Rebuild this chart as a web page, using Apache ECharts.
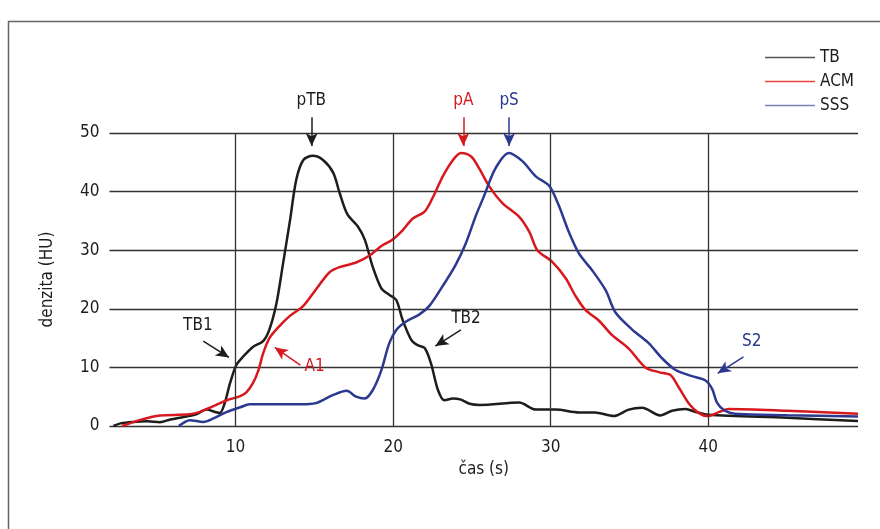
<!DOCTYPE html>
<html>
<head>
<meta charset="utf-8">
<script src="https://cdn.jsdelivr.net/npm/echarts@6/dist/echarts.min.js"></script>
<style>
  html, body { margin: 0; padding: 0; background: #fff; }
  #chart { width: 880px; height: 529px; }
</style>
</head>
<body>
<div id="chart"></div>
<script>
// křivky denzity [čas (s), HU]
const tbData = [
  [2.25, 0], [2.7, 0.45], [3.5, 0.7], [4.4, 0.8], [5.2, 0.65], [5.85, 1.1], [6.7, 1.55],
  [7.5, 2.0], [8.15, 2.8], [8.7, 2.4], [9.0, 2.2], [9.3, 3.8], [9.65, 7.3], [10.05, 10.4],
  [10.5, 11.9], [11.1, 13.5], [11.75, 14.5], [12.15, 16.5], [12.6, 21], [13.0, 27.5],
  [13.45, 35], [13.85, 42], [14.3, 45.4], [14.9, 46.1], [15.55, 45.4], [16.2, 43.2],
  [16.6, 39.8], [17.1, 36.1], [17.75, 34.1], [18.2, 31.8], [18.7, 27.2], [19.25, 23.5],
  [19.75, 22.4], [20.2, 21.5], [20.6, 18.1], [21.15, 14.7], [21.55, 13.8], [22.0, 13.3],
  [22.4, 10.7], [22.85, 6.1], [23.25, 4.4], [23.8, 4.7], [24.3, 4.5], [24.85, 3.8],
  [25.5, 3.6], [28.0, 4.0], [29.05, 2.8], [30.3, 2.8], [31.8, 2.3], [32.8, 2.3],
  [34.0, 1.7], [34.95, 2.8], [35.8, 3.1], [36.95, 1.8], [37.7, 2.6], [38.55, 2.9],
  [39.2, 2.4], [40, 1.9], [45, 1.4], [49.5, 0.85]
]
const acmData = [
  [2.8, 0], [3.9, 1.0], [4.6, 1.5], [5.2, 1.8], [7.1, 2.0], [7.75, 2.4], [8.6, 3.4],
  [9.45, 4.4], [10.3, 5.1], [10.7, 5.8], [11.1, 7.3], [11.45, 9.5], [11.75, 12.4],
  [12.15, 15.0], [12.8, 17.1], [13.45, 18.8], [14.3, 20.5], [15.1, 23.3], [15.95, 26.2],
  [16.6, 27.1], [17.65, 27.9], [18.5, 29.1], [19.3, 30.8], [19.95, 31.8], [20.6, 33.4],
  [21.25, 35.4], [22.0, 36.6], [22.5, 38.9], [23.15, 42.6], [23.8, 45.4], [24.3, 46.6],
  [24.95, 46.0], [25.45, 44.0], [26.1, 40.9], [26.95, 38.0], [28.0, 35.7], [28.65, 33.1],
  [29.15, 30.0], [30.1, 28.0], [30.95, 25.2], [31.55, 22.3], [32.2, 19.8], [33.05, 18.0],
  [33.9, 15.5], [34.95, 13.2], [36.0, 10.0], [36.85, 9.2], [37.6, 8.7], [38.1, 6.7],
  [38.75, 3.9], [39.4, 2.2], [39.95, 1.7], [40.7, 2.4], [41.3, 2.9], [45, 2.6], [49.5, 2.1]
]
const sssData = [
  [6.4, 0], [7.1, 1.0], [7.95, 0.7], [8.6, 1.3], [9.45, 2.4], [10.3, 3.2], [10.9, 3.7],
  [14.1, 3.7], [15.1, 3.9], [16.2, 5.3], [17.05, 6.0], [17.65, 5.0], [18.2, 4.7],
  [18.7, 6.1], [19.25, 9.5], [19.75, 14.1], [20.2, 16.4], [20.8, 17.8], [21.65, 19.0],
  [22.3, 20.5], [23.15, 23.9], [23.95, 27.4], [24.6, 31.1], [25.25, 35.9], [25.7, 38.8],
  [26.5, 44.0], [27.35, 46.6], [28.2, 45.2], [29.05, 42.6], [29.9, 41.0], [30.5, 37.7],
  [31.15, 33.1], [31.8, 29.4], [32.65, 26.5], [33.5, 23.1], [34.1, 19.4], [35.15, 16.5],
  [36.2, 14.2], [37.05, 11.6], [37.9, 9.6], [38.95, 8.5], [39.8, 7.8], [40.25, 6.3],
  [40.55, 4.0], [41.05, 2.6], [41.7, 2.1], [45, 1.85], [49.5, 1.6]
]
const seriesNames = ['TB', 'ACM', 'SSS']
const xTicks = [10, 20, 30, 40]
const yTicks = [0, 10, 20, 30, 40, 50]

// popisky se šipkami: text, pozice textu, šipka od -> do
const notes = [
  { text: 'pTB', color: '#1d1d1b', at: [14.8, 55.6], from: [14.83, 52.7], to: [14.83, 47.8] },
  { text: 'pA', color: '#d7191f', at: [24.45, 55.6], from: [24.45, 52.7], to: [24.45, 47.8] },
  { text: 'pS', color: '#2b3990', at: [27.36, 55.6], from: [27.36, 52.7], to: [27.36, 47.8] },
  { text: 'TB1', color: '#1d1d1b', at: [7.61, 17.1], from: [7.95, 14.5], to: [9.58, 11.7] },
  { text: 'A1', color: '#d7191f', at: [15.02, 10.2], from: [14.11, 10.4], to: [12.49, 13.4] },
  { text: 'TB2', color: '#1d1d1b', at: [24.62, 18.4], from: [24.3, 16.4], to: [22.68, 13.65] },
  { text: 'S2', color: '#2b3990', at: [42.76, 14.4], from: [42.23, 11.8], to: [40.6, 9.0] }
]

const font = "'Liberation Sans Narrow', 'DejaVu Sans Condensed', sans-serif"
const colors = ['#1d1d1b', '#d7191f', '#2b3990']
const legendColors = ['#555555', '#e8453c', '#7c83b8']

const gridLeft = 109.5, gridRight = 22, gridTop = 133, gridBottom = 103
const plotH = 529 - gridTop - gridBottom
// druhý (neviditelný) grid přes celé plátno se stejným měřítkem, pro popisky nad grafem
const yMaxFull = 50 * (529 - gridBottom) / plotH

const chart = echarts.init(document.getElementById('chart'))

const lineSeries = [tbData, acmData, sssData].map((d, i) => ({
  name: seriesNames[i],
  type: 'line',
  data: d,
  smooth: 0.3,
  showSymbol: false,
  symbol: 'none',
  clip: false,
  z: 3 + i,
  lineStyle: { color: colors[i], width: 2.5 },
  itemStyle: { color: colors[i] }
}))

// svislé čáry mřížky
const vGrid = {
  type: 'line',
  data: [],
  silent: true,
  markLine: {
    silent: true,
    animation: false,
    symbol: ['none', 'none'],
    label: { show: false },
    lineStyle: { color: '#333', width: 1.3, type: 'solid' },
    data: xTicks.map(v => ({ xAxis: v }))
  }
}

// šipky a texty
const noteSeries = {
  type: 'line',
  data: [],
  silent: true,
  xAxisIndex: 1,
  yAxisIndex: 1,
  z: 10,
  markLine: {
    silent: true,
    animation: false,
    symbol: ['none', 'arrow'],
    symbolSize: [9, 13],
    label: { show: false },
    data: notes.map(n => [
      { coord: n.from, lineStyle: { color: n.color, width: 1.5, type: 'solid' }, itemStyle: { color: n.color } },
      { coord: n.to }
    ])
  },
  markPoint: {
    silent: true,
    animation: false,
    symbol: 'circle',
    symbolSize: 0,
    data: notes.map(n => ({
      coord: n.at,
      label: {
        show: true,
        formatter: n.text,
        color: n.color,
        fontFamily: font,
        fontSize: 17,
        position: 'inside'
      }
    }))
  }
}

chart.setOption({
  animation: false,
  backgroundColor: '#fff',
  textStyle: { fontFamily: font },
  graphic: [{
    type: 'rect',
    shape: { x: 8.5, y: 21.5, width: 900, height: 600 },
    style: { fill: 'none', stroke: '#666', lineWidth: 1.5 },
    silent: true
  }],
  legend: {
    orient: 'vertical',
    left: 765,
    top: 49,
    padding: 0,
    itemWidth: 50,
    itemHeight: 14,
    itemGap: 7,
    textStyle: { fontFamily: font, fontSize: 17, color: '#1d1d1b' },
    data: seriesNames.map((n, i) => ({
      name: n,
      icon: 'path://M0,6 L50,6 L50,7.6 L0,7.6 Z',
      itemStyle: { color: legendColors[i] }
    }))
  },
  grid: [
    { left: gridLeft, right: gridRight, top: gridTop, bottom: gridBottom },
    { left: gridLeft, right: gridRight, top: 0, bottom: gridBottom }
  ],
  xAxis: [{
    type: 'value',
    min: 2,
    max: 49.5,
    name: 'čas (s)',
    nameLocation: 'middle',
    nameGap: 30,
    nameTextStyle: { fontFamily: font, fontSize: 17, color: '#1d1d1b' },
    axisLine: { show: false },
    axisTick: { show: false },
    splitLine: { show: false },
    axisLabel: {
      customValues: xTicks,
      margin: 13,
      fontFamily: font,
      fontSize: 17,
      color: '#1d1d1b'
    }
  }, {
    type: 'value',
    gridIndex: 1,
    min: 2,
    max: 49.5,
    show: false
  }],
  yAxis: [{
    type: 'value',
    min: 0,
    max: 50,
    interval: 10,
    name: 'denzita (HU)',
    nameLocation: 'middle',
    nameGap: 53,
    nameRotate: 90,
    nameTextStyle: { fontFamily: font, fontSize: 17, color: '#1d1d1b' },
    axisLine: { show: false },
    axisTick: { show: false },
    splitLine: { show: true, lineStyle: { color: '#333', width: 1.3 } },
    axisLabel: {
      margin: 10,
      fontFamily: font,
      fontSize: 17,
      color: '#1d1d1b',
      formatter: v => (yTicks.indexOf(v) >= 0 ? String(v) : '')
    }
  }, {
    type: 'value',
    gridIndex: 1,
    min: 0,
    max: yMaxFull,
    show: false
  }],
  series: [...lineSeries, vGrid, noteSeries]
})
</script>
</body>
</html>
